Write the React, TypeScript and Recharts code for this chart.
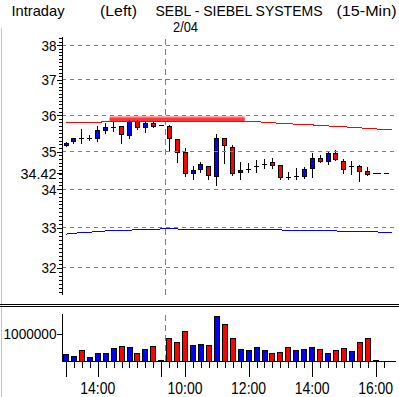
import {
  ComposedChart,
  BarChart,
  Bar,
  Line,
  XAxis,
  YAxis,
  ReferenceLine,
  ReferenceArea,
} from "recharts";

// 15-min bars, 2/03 13:00 .. 2/04 16:00
const opens = [35.17, 35.28, 35.36, 35.38, 35.38, 35.6, 35.68, 35.69, 35.45, 35.84, 35.67, 35.77, 35.72, 35.69, 35.34, 34.98, 34.42, 34.52, 34.6, 34.35, 35.36, 35.13, 34.44, 34.53, 34.62, 34.67, 34.72, 34.64, 34.32, 34.35, 34.35, 34.55, 34.83, 34.76, 34.95, 34.75, 34.61, 34.6, 34.49, 34.42];
const highs = [35.25, 35.38, 35.61, 35.45, 35.69, 35.77, 35.84, 35.7, 35.86, 35.86, 35.84, 35.84, 35.72, 35.72, 35.34, 35.09, 34.61, 34.72, 34.6, 35.47, 35.36, 35.18, 34.71, 34.68, 34.77, 34.81, 34.83, 34.64, 34.46, 34.56, 34.59, 34.95, 34.92, 34.99, 35.04, 34.81, 34.74, 34.64, 34.59, 34.42];
const lows = [35.15, 35.24, 35.23, 35.31, 35.28, 35.5, 35.56, 35.22, 35.36, 35.63, 35.54, 35.67, 35.72, 35.04, 34.72, 34.34, 34.26, 34.46, 34.26, 34.1, 34.68, 34.37, 34.26, 34.46, 34.46, 34.55, 34.55, 34.26, 34.26, 34.26, 34.29, 34.32, 34.72, 34.66, 34.77, 34.43, 34.39, 34.21, 34.37, 34.42];
const closes = [35.23, 35.37, 35.36, 35.38, 35.58, 35.67, 35.68, 35.47, 35.84, 35.67, 35.77, 35.7, 35.72, 35.36, 34.99, 34.42, 34.5, 34.66, 34.37, 35.37, 35.18, 34.42, 34.5, 34.53, 34.62, 34.67, 34.65, 34.33, 34.32, 34.35, 34.52, 34.83, 34.76, 34.95, 34.81, 34.53, 34.61, 34.49, 34.41, 34.42];
const volumes = [250000, 190000, 410000, 150000, 290000, 290000, 490000, 550000, 510000, 290000, 450000, 550000, 30000, 850000, 700000, 1110000, 590000, 620000, 590000, 1670000, 1370000, 850000, 450000, 400000, 540000, 400000, 310000, 350000, 540000, 400000, 450000, 510000, 450000, 290000, 400000, 470000, 360000, 700000, 850000, 30000];

// upper (red) and lower (blue) bands, one value per slot incl. 2 empty slots
const upperBand = [35.8, 35.8, 35.8, 35.8, 35.8, 35.82, 35.82, 35.82, 35.82, 35.82, 35.82, 35.82, 35.82, 35.82, 35.82, 35.82, 35.82, 35.82, 35.82, 35.82, 35.82, 35.82, 35.82, 35.82, 35.82, 35.8, 35.79, 35.77, 35.76, 35.75, 35.74, 35.73, 35.71, 35.7, 35.69, 35.68, 35.66, 35.65, 35.63, 35.62, 35.6, 35.59];
const lowerBand = [32.84, 32.86, 32.88, 32.89, 32.9, 32.92, 32.93, 32.93, 32.94, 32.95, 32.95, 32.96, 32.97, 32.97, 32.97, 32.95, 32.95, 32.95, 32.95, 32.95, 32.95, 32.95, 32.95, 32.95, 32.95, 32.95, 32.95, 32.95, 32.92, 32.92, 32.92, 32.92, 32.92, 32.92, 32.92, 32.9, 32.9, 32.9, 32.9, 32.9, 32.87, 32.87];

const priceLabels = [32, 33, 34, 35, 36, 37, 38];
const lastPrice = 34.42;
const volLabels = [1000000];
const timeTickIdx = [4, 15, 23, 31, 39];
const timeLabels = ["14:00", "10:00", "12:00", "14:00", "16:00"];
const longTickIdx = [0, 4, 12, 15, 23, 31, 39];
const dayBreak = 12;
const zoneX = [6, 22];
const zoneOuter = [35.82, 35.97];
const zoneInner = [35.84, 35.93];

const titleLeft = "Intraday";
const titleSide = "(Left)";
const titleName = "SEBL - SIEBEL SYSTEMS";
const titlePeriod = "(15-Min)";
const titleDate = "2/04";

const FONT = "'Liberation Sans Narrow', 'Liberation Sans', Arial, sans-serif";
const BLUE = "#0000ff";
const RED = "#ff0000";

const data = upperBand.map((u, i) => ({
  i,
  o: opens[i] ?? null,
  h: highs[i] ?? null,
  l: lows[i] ?? null,
  c: closes[i] ?? null,
  vol: volumes[i] ?? null,
  volUp: i < closes.length ? (i === 0 ? closes[i] >= opens[i] : closes[i] > closes[i - 1]) : null,
  upper: u,
  lower: lowerBand[i],
}));

// minor ticks every 0.1 on the price axis
const minorTicks: number[] = [];
for (let k = 314; k <= 382; k++) minorTicks.push(k / 10);
const priceTicks = [...minorTicks, lastPrice];

function Candle(props: any) {
  const { x, y, width, height, payload } = props;
  if (!payload || payload.o == null || !isFinite(y)) return <g />;
  const { o, h, l, c } = payload;
  const span = Math.log(h) - Math.log(l);
  const py = (p: number) =>
    span > 0 ? y + (height * (Math.log(h) - Math.log(p))) / span : y;
  const cx = Math.round(x + width / 2);
  const wick = (
    <line x1={cx + 0.5} x2={cx + 0.5} y1={Math.round(py(h))} y2={Math.round(py(l)) + 1} stroke="#000" />
  );
  if (o === c) {
    const yy = Math.round(py(c)) + 0.5;
    return (
      <g>
        {wick}
        <line x1={cx - 2} x2={cx + 3} y1={yy} y2={yy} stroke="#000" />
      </g>
    );
  }
  const top = Math.round(py(Math.max(o, c)));
  const bot = Math.round(py(Math.min(o, c)));
  return (
    <g>
      {wick}
      <rect
        x={cx - 1.5}
        y={top + 0.5}
        width={4}
        height={Math.max(bot - top, 1)}
        fill={c > o ? BLUE : RED}
        stroke="#000"
      />
    </g>
  );
}

function VolBar(props: any) {
  const { x, y, width, height, payload } = props;
  if (!payload || payload.vol == null || !isFinite(y)) return <g />;
  const cx = Math.round(x + width / 2);
  const top = Math.round(y);
  const bot = Math.round(y + height);
  return (
    <rect
      x={cx - 2.5}
      y={top + 0.5}
      width={5}
      height={Math.max(bot - top, 0.5)}
      fill={payload.volUp ? BLUE : RED}
      stroke="#000"
    />
  );
}

function PriceTick(props: any) {
  const { x, y, payload } = props;
  const v = payload.value;
  const yy = Math.round(y) + 0.5;
  const isLast = v === lastPrice;
  if (!isLast && !priceLabels.includes(v)) {
    return <line x1={x - 3} x2={x} y1={yy} y2={yy} stroke="#000" />;
  }
  const label = isLast ? v.toFixed(2) : String(v);
  return (
    <g>
      <line x1={x - 5} x2={x} y1={yy} y2={yy} stroke="#000" />
      <text
        x={x - 5.5}
        y={y + 5.5}
        textAnchor="end"
        fontFamily={FONT}
        fontSize={15}
        fill="#000"
        textLength={isLast ? 36 : 15}
        lengthAdjust="spacingAndGlyphs"
      >
        {label}
      </text>
    </g>
  );
}

function VolTick(props: any) {
  const { x, y, payload } = props;
  const yy = Math.round(y) + 0.5;
  return (
    <g>
      <line x1={x - 5} x2={x} y1={yy} y2={yy} stroke="#000" />
      <text
        x={x - 5.5}
        y={y + 5}
        textAnchor="end"
        fontFamily={FONT}
        fontSize={15}
        fill="#000"
        textLength={53}
        lengthAdjust="spacingAndGlyphs"
      >
        {String(payload.value)}
      </text>
    </g>
  );
}

function TimeTick(props: any) {
  const { x, y, payload } = props;
  const i = payload.value;
  if (i > 40) return <g />;
  const cx = Math.round(x) + 0.5;
  const k = timeTickIdx.indexOf(i);
  const long = longTickIdx.includes(i);
  return (
    <g>
      <line x1={cx} x2={cx} y1={y} y2={y + (long ? 16 : 7)} stroke="#000" />
      {k >= 0 && (
        <text
          x={x}
          y={y + 33}
          textAnchor="middle"
          fontFamily={FONT}
          fontSize={16}
          fill="#000"
          textLength={35}
          lengthAdjust="spacingAndGlyphs"
        >
          {timeLabels[k]}
        </text>
      )}
    </g>
  );
}

export default function App() {
  return (
    <div
      style={{
        position: "absolute",
        left: 0,
        top: 0,
        width: 399,
        height: 397,
        background: "#fff",
        overflow: "hidden",
      }}
    >
      <div style={{ position: "absolute", left: 0, top: 0 }}>
        <ComposedChart
          width={399}
          height={296}
          data={data}
          margin={{ top: 37, right: 3.5, bottom: 1, left: 0 }}
        >
          <XAxis dataKey="i" type="category" hide />
          <YAxis
            scale="log"
            domain={[31.33, 38.24]}
            allowDataOverflow
            ticks={priceTicks}
            interval={0}
            width={62}
            tickLine={false}
            tickSize={0}
            tickMargin={0}
            axisLine={{ stroke: "#000", shapeRendering: "crispEdges" }}
            tick={<PriceTick />}
          />
          {priceLabels.map((v) => (
            <ReferenceLine
              key={v}
              y={v}
              stroke="#808080"
              strokeDasharray="4 4"
              shapeRendering="crispEdges"
            />
          ))}
          <ReferenceLine
            x={dayBreak}
            position="end"
            stroke="#808080"
            strokeDasharray="6 4"
            shapeRendering="crispEdges"
          />
          <ReferenceArea
            x1={zoneX[0]}
            x2={zoneX[1]}
            y1={zoneOuter[0]}
            y2={zoneOuter[1]}
            fill="#ff7a7a"
            fillOpacity={0.85}
            stroke="none"
          />
          <ReferenceArea
            x1={zoneX[0]}
            x2={zoneX[1]}
            y1={zoneInner[0]}
            y2={zoneInner[1]}
            fill="#ff3030"
            fillOpacity={0.9}
            stroke="none"
          />
          <ReferenceLine
            segment={[
              { x: 39, y: lastPrice },
              { x: 41, y: lastPrice },
            ]}
            stroke="#000"
            strokeDasharray="5 3"
            shapeRendering="crispEdges"
          />
          <Line
            dataKey="upper"
            type="linear"
            stroke={RED}
            strokeWidth={1}
            dot={false}
            shapeRendering="crispEdges"
            isAnimationActive={false}
          />
          <Line
            dataKey="lower"
            type="linear"
            stroke={BLUE}
            strokeWidth={1}
            dot={false}
            shapeRendering="crispEdges"
            isAnimationActive={false}
          />
          <Bar
            dataKey={(d: any) => (d.o == null ? null : [d.l, d.h])}
            barSize={5}
            shape={<Candle />}
            isAnimationActive={false}
          />
        </ComposedChart>
      </div>

      <div style={{ position: "absolute", left: 0, top: 300 }}>
        <BarChart
          width={399}
          height={97}
          data={data}
          margin={{ top: 14, right: 3.5, bottom: 0, left: 0 }}
        >
          <XAxis
            dataKey="i"
            type="category"
            interval={0}
            height={36}
            tickLine={false}
            tickSize={0}
            tickMargin={0}
            axisLine={{ stroke: "#000", shapeRendering: "crispEdges" }}
            tick={<TimeTick />}
          />
          <YAxis
            domain={[0, 1760000]}
            allowDataOverflow
            ticks={volLabels}
            interval={0}
            width={62}
            tickLine={false}
            tickSize={0}
            tickMargin={0}
            axisLine={{ stroke: "#000", shapeRendering: "crispEdges" }}
            tick={<VolTick />}
          />
          <ReferenceLine
            x={dayBreak}
            position="end"
            stroke="#808080"
            strokeDasharray="6 4"
            shapeRendering="crispEdges"
          />
          <Bar dataKey="vol" barSize={6} shape={<VolBar />} isAnimationActive={false} />
        </BarChart>
      </div>

      <svg
        width={399}
        height={397}
        style={{ position: "absolute", left: 0, top: 0, pointerEvents: "none" }}
      >
        <line x1={1.5} x2={1.5} y1={28} y2={397} stroke="#c4c4c4" />
        <line x1={0} x2={399} y1={304.5} y2={304.5} stroke="#000" />
        <line x1={0} x2={399} y1={306.5} y2={306.5} stroke="#000" />
        <g fontFamily={FONT} fontSize={15} fill="#000">
          <text x={11.5} y={16} textLength={53} lengthAdjust="spacingAndGlyphs">
            {titleLeft}
          </text>
          <text x={100} y={16} textLength={37} lengthAdjust="spacingAndGlyphs">
            {titleSide}
          </text>
          <text x={155.5} y={16} textLength={167} lengthAdjust="spacingAndGlyphs">
            {titleName}
          </text>
          <text x={336.5} y={16} textLength={60} lengthAdjust="spacingAndGlyphs">
            {titlePeriod}
          </text>
          <text x={173} y={32} textLength={25} lengthAdjust="spacingAndGlyphs">
            {titleDate}
          </text>
        </g>
      </svg>
    </div>
  );
}
